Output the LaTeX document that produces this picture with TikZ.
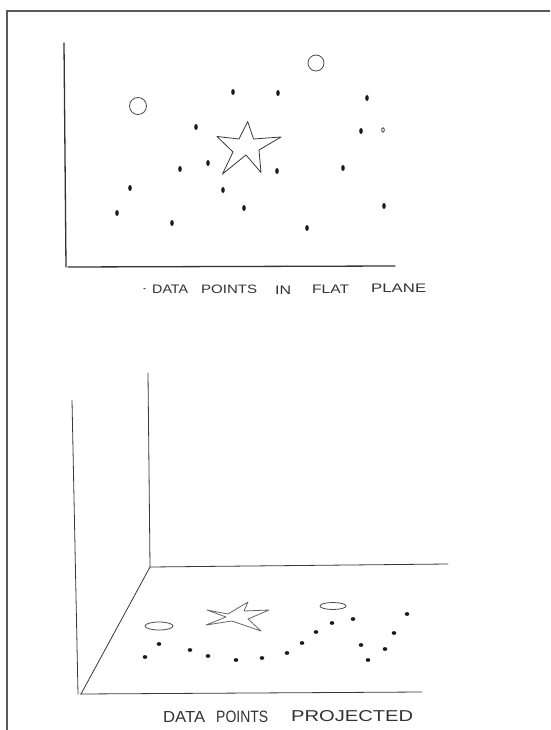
\documentclass[tikz,border=0pt]{standalone}
\usepackage{fontspec}
\setmainfont{Liberation Sans}
\begin{document}
\begin{tikzpicture}[x=1pt,y=-1pt,
  pencil/.style={draw=black!78, line width=0.8pt, line join=round, line cap=round},
  axis/.style={draw=black!80, line width=1.3pt, line cap=round},
  frame/.style={draw=black!65, line width=1.6pt},
  dot/.style={fill=black!90},
  ring/.style={draw=black!70, line width=0.8pt},
  word/.style={anchor=west, inner sep=0pt, text=black!80}]
\useasboundingbox (0,0) rectangle (550,730);
\fill[white] (0,0) rectangle (550,730);
% frame
\draw[frame] (7,730) -- (7,11) -- (550,11);

% ---------- top plot ----------
\draw[axis] (64,43) -- (66,267);
\draw[axis] (68,267) -- (395,266);
\draw[ring] (138,106) circle (8.5);
\draw[ring] (316,63) circle (8);
\draw[pencil] (247.7,121.5) -- (253.5,139) -- (281,137) -- (259,150) -- (261,172.5)
  -- (246,155) -- (222.5,174) -- (233,152) -- (217,136.5) -- (239,139) -- cycle;
\foreach \x/\y in {233/92, 278/93, 367/98, 196/127, 361/131, 180/169, 208/163,
  277/171, 343/168, 130/188, 223/190, 117/213, 172/223, 244/208, 307/228, 384/206}
  \fill[dot] (\x,\y) ellipse (1.8 and 3);
\draw[black!80, line width=0.8pt] (383,130) ellipse (1.3 and 2.2);

% caption top
\node[word] (t0) at (143,289) {\resizebox{3pt}{2pt}{\textbullet}};
\node[word] (t1) at (152,289) {\resizebox{36pt}{8.5pt}{DATA}};
\node[word] (t2) at (201,289) {\resizebox{56pt}{8.5pt}{POINTS}};
\node[word] (t3) at (275,290) {\resizebox{16pt}{8.5pt}{IN}};
\node[word] (t4) at (312,289) {\resizebox{37pt}{8.5pt}{FLAT}};
\node[word] (t5) at (371,288) {\resizebox{55pt}{8.5pt}{PLANE}};

% ---------- bottom plot ----------
\draw[pencil] (72,400) -- (78,694);
\draw[pencil] (148,373) -- (150,567);
\draw[pencil] (150,567) -- (448,564);
\draw[pencil] (150,567) -- (81,694);
\draw[pencil] (80,694) -- (422,692);
\draw[ring] (159,626) ellipse (14 and 4);
\draw[ring] (333,606) ellipse (13 and 3.5);
\draw[pencil, draw=black!60] (207,610) -- (228,614) -- (248,602) -- (244,611) -- (269,610)
  -- (248,619) -- (261,631) -- (232,621) -- (206,625) -- (226,617) -- cycle;
\foreach \x/\y in {145/657, 159/644, 190/650, 208/656, 236/660, 262/658, 287/653,
  302/643, 316/632, 332/623, 353/619, 407/614, 394/633, 385/649, 361/645, 368/660}
  \fill[dot] (\x,\y) ellipse (2.3 and 1.9);

% caption bottom
\node[word] (b1) at (163,717) {\resizebox{42pt}{11pt}{DATA}};
\node[word] (b2) at (216,717) {\resizebox{52pt}{11.5pt}{POINTS}};
\node[word] (b3) at (291,716) {\resizebox{122pt}{11pt}{PROJECTED}};
\end{tikzpicture}
\end{document}
